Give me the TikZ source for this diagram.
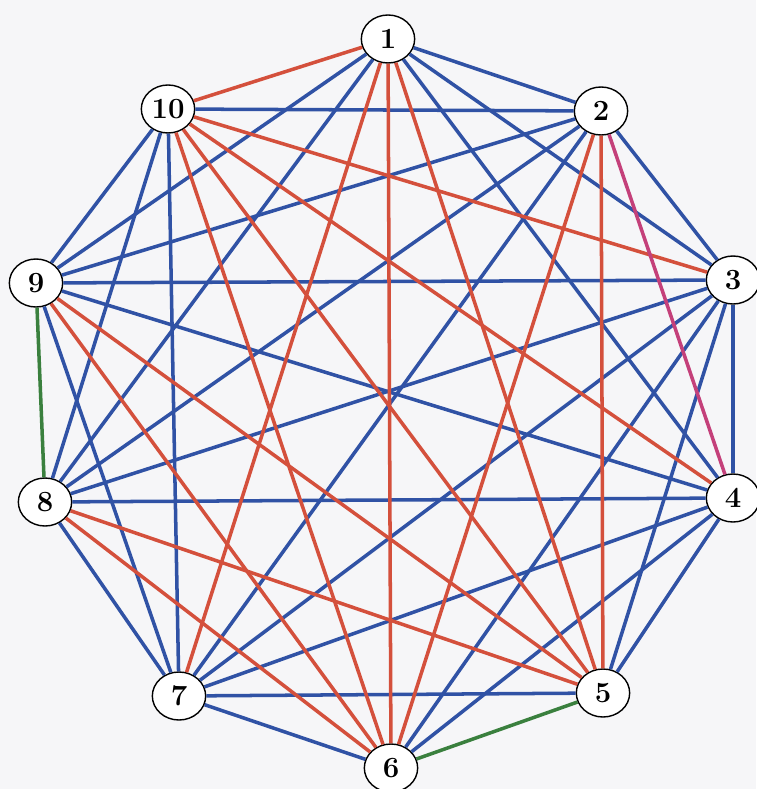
\documentclass[tikz,border=0pt]{standalone}
\usetikzlibrary{shapes.geometric}
\definecolor{eblue}{RGB}{48,82,165}
\definecolor{ered}{RGB}{212,80,60}
\definecolor{egreen}{RGB}{58,128,62}
\definecolor{emag}{RGB}{196,64,122}
\definecolor{bg}{RGB}{246,246,248}
\begin{document}
\begin{tikzpicture}[x=0.03cm,y=-0.03cm,
  vtx/.style={ellipse,draw=black,line width=1.2pt,fill=white,minimum width=1.6cm,minimum height=1.44cm,inner sep=0pt,font=\fontsize{25}{30}\selectfont\bfseries},
  eb/.style={draw=eblue,line width=3pt},
  er/.style={draw=ered,line width=3pt},
  eg/.style={draw=egreen,line width=3pt},
  em/.style={draw=emag,line width=3pt}]
\fill[bg] (0,0) rectangle (756,789);
\useasboundingbox (0,0) rectangle (756,789);
\node[vtx] (n1) at (388,39) {1};
\node[vtx] (n2) at (601,111) {2};
\node[vtx] (n3) at (733,280) {3};
\node[vtx] (n4) at (733,498) {4};
\node[vtx] (n5) at (603,693) {5};
\node[vtx] (n6) at (391,768) {6};
\node[vtx] (n7) at (179,696) {7};
\node[vtx] (n8) at (45,502) {8};
\node[vtx] (n9) at (36,283) {9};
\node[vtx] (n10) at (168,109) {10};
% blue edges
\foreach \a/\b in {1/2,1/3,1/4,1/8,1/9,2/3,2/7,2/8,2/9,2/10,3/4,3/5,3/6,3/7,3/8,3/9,4/5,4/6,4/7,4/8,4/9,5/7,6/7,7/8,7/9,7/10,8/10,9/10}
  \draw[eb] (n\a) -- (n\b);
% red edges
\foreach \a/\b in {1/10,1/5,1/6,1/7,2/5,2/6,3/10,4/10,5/10,6/10,5/8,6/8,5/9,6/9}
  \draw[er] (n\a) -- (n\b);
\draw[eg] (n5) -- (n6);
\draw[eg] (n8) -- (n9);
\draw[em] (n2) -- (n4);
\end{tikzpicture}
\end{document}
